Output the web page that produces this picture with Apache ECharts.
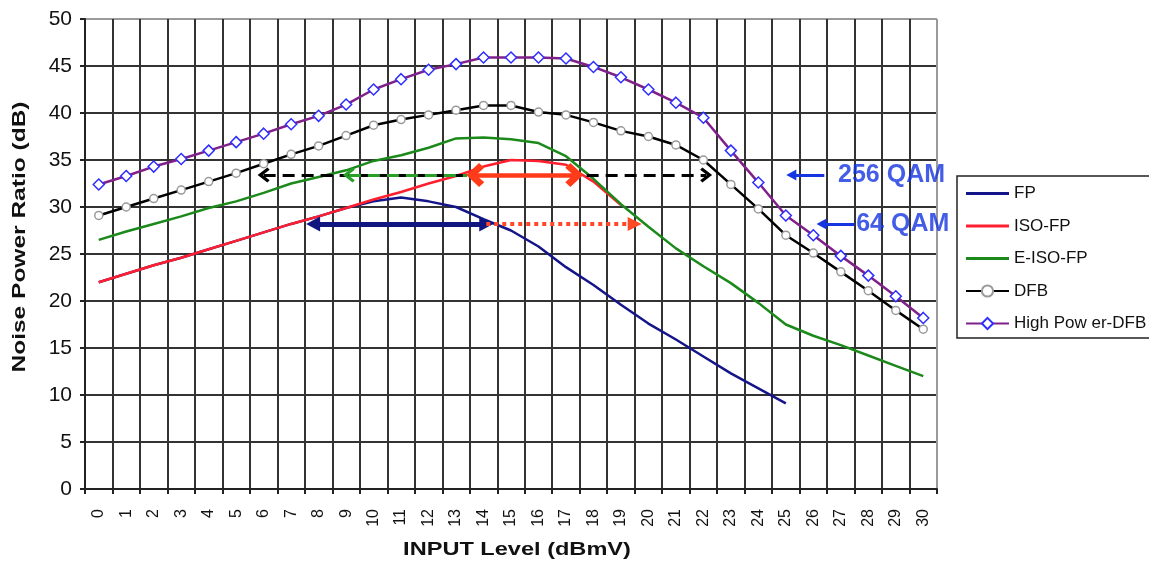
<!DOCTYPE html>
<html>
<head>
<meta charset="utf-8">
<script src="https://cdn.jsdelivr.net/npm/echarts@6/dist/echarts.min.js"></script>
<style>
  html, body { margin: 0; padding: 0; background: #ffffff; }
  #chart { width: 1149px; height: 566px; }
</style>
</head>
<body>
<div id="chart"></div>
<script>
// Input level categories (dBmV)
const inputLevels = ['0','1','2','3','4','5','6','7','8','9','10','11','12','13','14','15',
  '16','17','18','19','20','21','22','23','24','25','26','27','28','29','30'];

// Noise power ratio (dB) per transmitter type
const fp = [22.0, 22.9, 23.8, 24.6, 25.5, 26.4, 27.3, 28.2, 29.0, 29.9, 30.6, 31.0, 30.6, 30.0,
  28.7, 27.5, 25.8, 23.6, 21.7, 19.6, 17.6, 15.9, 14.1, 12.3, 10.7, 9.1];
const isoFp = [22.0, 22.9, 23.8, 24.6, 25.5, 26.4, 27.3, 28.2, 29.0, 29.9, 30.8, 31.6, 32.5, 33.3,
  34.3, 35.0, 34.9, 34.5, 32.7, 30.2];
const eIsoFp = [26.5, 27.4, 28.2, 29.0, 29.9, 30.6, 31.5, 32.5, 33.2, 33.9, 34.9, 35.5, 36.3, 37.3,
  37.4, 37.2, 36.8, 35.4, 33.0, 30.3, 27.9, 25.6, 23.7, 21.9, 19.8, 17.5, 16.3, 15.3, 14.2, 13.1, 12.0];
const dfb = [29.1, 30.0, 30.9, 31.8, 32.7, 33.6, 34.6, 35.6, 36.5, 37.6, 38.7, 39.3, 39.8, 40.3,
  40.8, 40.8, 40.1, 39.8, 39.0, 38.1, 37.5, 36.6, 35.0, 32.4, 29.8, 27.0, 25.1, 23.1, 21.1, 19.0, 17.0];
const highPowerDfb = [32.4, 33.3, 34.3, 35.1, 36.0, 36.9, 37.8, 38.8, 39.7, 40.9, 42.5, 43.6, 44.6, 45.2,
  45.9, 45.9, 45.9, 45.8, 44.9, 43.8, 42.5, 41.1, 39.5, 36.0, 32.6, 29.1, 27.0, 24.8, 22.7, 20.5, 18.2];

// Required NPR thresholds (dB) for the two modulations
const npr256 = 33.4;
const npr64 = 28.2;

// Operating ranges (input level span) at each threshold
const dfbSpan256 = [6.0, 22.1];
const eIsoSpan256 = [9.1, 13.4];
const isoSpan256 = [13.7, 17.3];
const fpSpan64 = [7.8, 14.1];
const isoSpan64 = [14.1, 19.5];

// Threshold callouts: arrow tail, arrow tip, label start
const qamNames = ['256 QAM', '64 QAM'];
const qamLevels = [npr256, npr64];
const qamArrowTail = [26.4, 27.5];
const qamArrowTip = [25.2, 26.3];
const qamLabelX = [26.9, 27.56];

const FONT = '"Liberation Sans", Arial, Helvetica, sans-serif';
const CHEVRON = 'path://M50,0 L100,60 L85,74 L50,32 L15,74 L0,60 Z';
const CHEVRON_BOLD = 'path://M50,0 L100,54 L80,76 L50,42 L20,76 L0,54 Z';
const LINE_ICON = 'path://M0,0 L43,0 L43,3 L0,3 Z';

const gridColor = '#333333';
const edgeColor = '#9a9a9a';
const ySplitColors = Array(10).fill(gridColor).concat([edgeColor]);
const xSplitColors = Array(31).fill(gridColor).concat([edgeColor]);

function span(range, level) {
  return [{ coords: [[range[0], level], [range[1], level]] }];
}

function arrow(name, data, color, width, dash, symbols, sizes) {
  return {
    name: name,
    type: 'lines',
    coordinateSystem: 'cartesian2d',
    xAxisIndex: 1,
    yAxisIndex: 0,
    silent: true,
    symbol: symbols,
    symbolSize: sizes,
    lineStyle: { color: color, width: width, type: dash, opacity: 1, cap: 'butt' },
    data: data,
    z: 5
  };
}

const chart = echarts.init(document.getElementById('chart'), null, { renderer: 'canvas' });

chart.setOption({
  animation: false,
  backgroundColor: '#ffffff',
  grid: { left: 85, top: 19, width: 852, height: 470, containLabel: false },
  legend: {
    orient: 'vertical',
    left: 957,
    top: 176,
    itemWidth: 43,
    itemHeight: 14,
    itemGap: 15.5,
    padding: [9, 8, 11, 8],
    textStyle: { fontFamily: FONT, fontSize: 17, color: '#111111' },
    data: [
      { name: 'FP', icon: LINE_ICON },
      { name: 'ISO-FP', icon: LINE_ICON },
      { name: 'E-ISO-FP', icon: LINE_ICON },
      { name: 'DFB' },
      { name: 'High Pow er-DFB' }
    ]
  },
  xAxis: [
    {
      type: 'category',
      data: inputLevels,
      boundaryGap: true,
      axisLine: { show: true, onZero: false, lineStyle: { color: '#222222', width: 2 } },
      axisTick: { show: true, length: 5, lineStyle: { color: '#222222', width: 2 } },
      axisLabel: { interval: 0, rotate: 90, margin: 20, fontFamily: FONT, fontSize: 16, color: '#111111' },
      splitLine: { show: true, lineStyle: { color: xSplitColors, width: 2 } }
    },
    {
      type: 'value',
      min: -0.5,
      max: 30.5,
      show: false,
      axisLine: { show: false, onZero: false },
      axisTick: { show: false },
      axisLabel: { show: false },
      splitLine: { show: false }
    }
  ],
  yAxis: {
    type: 'value',
    min: 0,
    max: 50,
    interval: 5,
    axisLine: { show: true, onZero: false, lineStyle: { color: '#222222', width: 2 } },
    axisTick: { show: true, length: 5, lineStyle: { color: '#222222', width: 2 } },
    axisLabel: { margin: 13, fontFamily: FONT, fontSize: 21, color: '#111111' },
    splitLine: { show: true, lineStyle: { color: ySplitColors, width: 2 } }
  },
  graphic: [
    {
      // legend frame, running past the right edge of the canvas
      type: 'rect',
      shape: { x: 957, y: 176, width: 240, height: 162 },
      style: { fill: 'none', stroke: '#222222', lineWidth: 1.5 },
      silent: true,
      z: 10
    },
    {
      type: 'text',
      x: 517, y: 550,
      scaleX: 1.24,
      style: {
        text: 'INPUT Level (dBmV)',
        font: 'bold 19px ' + FONT,
        fill: '#111111',
        textAlign: 'center',
        textVerticalAlign: 'middle'
      }
    },
    {
      type: 'text',
      x: 20, y: 237,
      rotation: Math.PI / 2,
      scaleX: 1.29,
      style: {
        text: 'Noise Power Ratio (dB)',
        font: 'bold 19px ' + FONT,
        fill: '#111111',
        textAlign: 'center',
        textVerticalAlign: 'middle'
      }
    }
  ],
  series: [
    {
      name: 'FP', type: 'line', data: fp, symbol: 'none',
      lineStyle: { color: '#15158a', width: 2.5 }, itemStyle: { color: '#15158a' }, z: 2
    },
    {
      name: 'ISO-FP', type: 'line', data: isoFp, symbol: 'none',
      lineStyle: { color: '#ff1f2e', width: 2.5 }, itemStyle: { color: '#ff1f2e' }, z: 2
    },
    {
      name: 'E-ISO-FP', type: 'line', data: eIsoFp, symbol: 'none',
      lineStyle: { color: '#1b8a1b', width: 2.5 }, itemStyle: { color: '#1b8a1b' }, z: 2
    },
    {
      name: 'DFB', type: 'line', data: dfb, symbol: 'circle', symbolSize: 8,
      lineStyle: { color: '#000000', width: 2.5 },
      itemStyle: { color: '#ffffff', borderColor: '#9a9a9a', borderWidth: 1.5 }, z: 3
    },
    {
      name: 'High Pow er-DFB', type: 'line', data: highPowerDfb, symbol: 'diamond', symbolSize: 11,
      lineStyle: { color: '#80208a', width: 2.5 },
      itemStyle: { color: '#ffffff', borderColor: '#2e2eff', borderWidth: 1.5 }, z: 3
    },
    arrow('dfb256', span(dfbSpan256, npr256), '#000000', 3, [12, 7],
      [CHEVRON, CHEVRON], [[15, 12], [15, 12]]),
    arrow('eiso256', span(eIsoSpan256, npr256), '#2aa02a', 3, [12, 7],
      [CHEVRON, 'none'], [[15, 12], [15, 12]]),
    arrow('iso256', span(isoSpan256, npr256), '#ff3b1a', 4.5, 'solid',
      [CHEVRON_BOLD, CHEVRON_BOLD], [[24, 18], [24, 18]]),
    arrow('fp64', span(fpSpan64, npr64), '#10157f', 5, 'solid',
      ['triangle', 'triangle'], [[15, 14], [15, 14]]),
    arrow('iso64', span(isoSpan64, npr64), '#ff4a26', 4, [4, 4],
      ['none', 'triangle'], [[14, 14], [14, 14]]),
    arrow('qamArrows', qamLevels.map((lv, i) => ({ coords: [[qamArrowTail[i], lv], [qamArrowTip[i], lv]] })),
      '#1535e0', 3, 'solid', ['none', 'triangle'], [[11, 10], [11, 10]]),
    {
      name: 'qamLabels',
      type: 'scatter',
      xAxisIndex: 1,
      yAxisIndex: 0,
      silent: true,
      symbolSize: 0,
      clip: false,
      data: qamNames.map((n, i) => [qamLabelX[i], qamLevels[i], n]),
      label: {
        show: true,
        position: 'right',
        distance: 0,
        formatter: p => p.value[2],
        fontFamily: FONT,
        fontWeight: 'bold',
        fontSize: 25,
        color: '#1535e0'
      },
      z: 6
    }
  ]
});
</script>
</body>
</html>
